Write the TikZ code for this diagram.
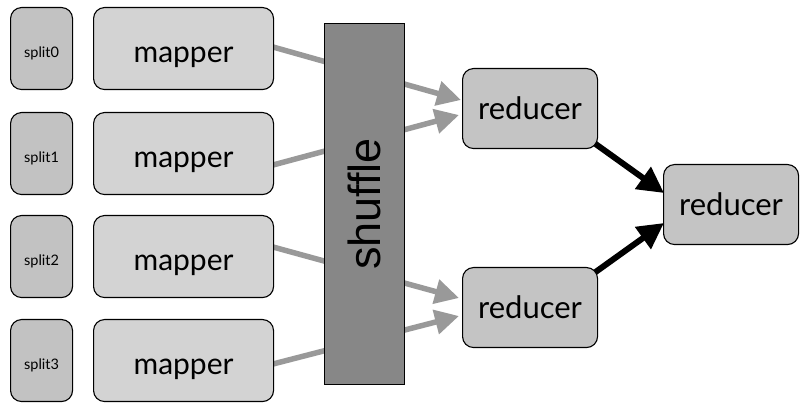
\documentclass[tikz,border=0pt]{standalone}
\usepackage{fontspec}
\setmainfont{Lato}
\newfontfamily\shufflefont{Liberation Sans}
\usetikzlibrary{arrows.meta}
\definecolor{splitgray}{HTML}{C2C2C2}
\definecolor{mapgray}{HTML}{D3D3D3}
\definecolor{redgray}{HTML}{C4C4C4}
\definecolor{shufgray}{HTML}{878787}
\definecolor{arrgray}{HTML}{999999}
\begin{document}
\begin{tikzpicture}[x=1pt,y=-1pt,
  box/.style={draw=black,line width=1.1pt,rounded corners=11pt,inner sep=0pt,anchor=north west},
  splitbox/.style={box,fill=splitgray,minimum width=62pt,minimum height=82pt,text height=17pt,text depth=0pt,font=\fontsize{14.5}{16}\selectfont},
  mapbox/.style={box,fill=mapgray,minimum width=180pt,minimum height=82pt,text height=27pt,text depth=0pt,font=\fontsize{30}{32}\selectfont},
  redbox/.style={box,fill=redgray,minimum width=135pt,minimum height=80pt,text height=21pt,text depth=0pt,font=\fontsize{31}{33}\selectfont},
  grayarrow/.style={draw=arrgray,line width=5.5pt,-{Triangle[length=24pt,width=24pt]}},
  blackarrow/.style={draw=black,line width=6pt,-{Triangle[length=26pt,width=26pt]}}
]
\useasboundingbox (0,0) rectangle (807,414);
% coordinates for arrow ends
\coordinate (m0e) at (273,47);
\coordinate (m1e) at (273,165);
\coordinate (m2e) at (273,247);
\coordinate (m3e) at (273,364);
\coordinate (r0a) at (461,100);
\coordinate (r0b) at (459,115);
\coordinate (r1a) at (459,298);
\coordinate (r1b) at (459,316);
\coordinate (r0o) at (590,140);
\coordinate (r1o) at (590,276);
\coordinate (fa) at (664,193);
\coordinate (fb) at (664,223);
% connectors behind nodes
\draw[grayarrow] (m0e) -- (r0a);
\draw[grayarrow] (m1e) -- (r0b);
\draw[grayarrow] (m2e) -- (r1a);
\draw[grayarrow] (m3e) -- (r1b);
\draw[blackarrow] (r0o) -- (fa);
\draw[blackarrow] (r1o) -- (fb);
% splits
\node[splitbox] (s0) at (10,7) {split0};
\node[splitbox] (s1) at (10,112) {split1};
\node[splitbox] (s2) at (10,215) {split2};
\node[splitbox] (s3) at (10,319) {split3};
% mappers
\node[mapbox] (m0) at (93,7) {mapper};
\node[mapbox] (m1) at (93,112) {mapper};
\node[mapbox] (m2) at (93,215) {mapper};
\node[mapbox] (m3) at (93,319) {mapper};
% shuffle
\node[draw=black,line width=1.1pt,fill=shufgray,minimum width=80pt,minimum height=361pt,inner sep=0pt,anchor=north west] (sh) at (324,23) {};
\node[rotate=90,font=\shufflefont\fontsize{45}{50}\selectfont] (shtext) at (sh.center) {shuffle};
% reducers
\node[redbox] (r0) at (462,68) {reducer};
\node[redbox] (r1) at (462,267) {reducer};
\node[redbox] (rf) at (663,164) {reducer};
\end{tikzpicture}
\end{document}
